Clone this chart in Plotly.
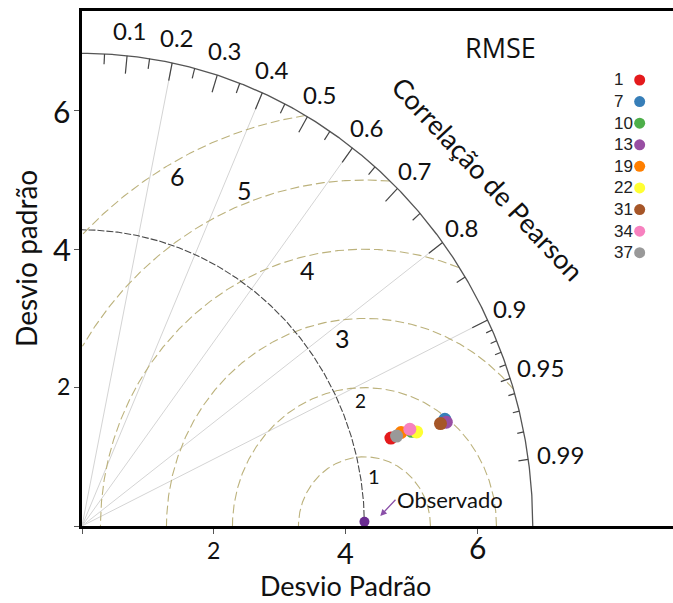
import numpy as np
import plotly.graph_objects as go

# ---------------- data ----------------
model_names = ["1", "7", "10", "13", "19", "22", "31", "34", "37"]
model_colors = ["#e41a1c", "#377eb8", "#4daf4a", "#984ea3", "#ff7f00",
                "#ffff33", "#a65628", "#f781bf", "#999999"]
model_std = [4.85, 5.71, 5.18, 5.72, 5.02, 5.25, 5.63, 5.16, 4.94]
model_corr = [0.9651, 0.9629, 0.9645, 0.9650, 0.9631, 0.9659, 0.9648, 0.9626, 0.9648]

obs_std = 4.28
obs_corr = 0.9999

max_std = 6.83
rmse_levels = [1, 2, 3, 4, 5, 6]
corr_labels = [0.1, 0.2, 0.3, 0.4, 0.5, 0.6, 0.7, 0.8, 0.9, 0.95, 0.99]
corr_lines = [0.2, 0.4, 0.6, 0.8, 0.9]
axis_ticks = [2, 4, 6]

FONT = "Lato"
fig = go.Figure()

# radial correlation lines
xs, ys = [], []
for c in corr_lines:
    th = np.arccos(c)
    xs += [0, max_std * np.cos(th), None]
    ys += [0, max_std * np.sin(th), None]
fig.add_trace(go.Scatter(x=xs, y=ys, mode="lines",
                         line=dict(color="#d4d4d4", width=1), hoverinfo="skip"))

# RMSE arcs
for k in rmse_levels:
    phi = np.linspace(0, np.pi, 720)
    ax_ = obs_std + k * np.cos(phi)
    ay_ = k * np.sin(phi)
    m = (ax_ >= 0) & (np.hypot(ax_, ay_) <= max_std)
    fig.add_trace(go.Scatter(x=ax_[m], y=ay_[m], mode="lines",
                             line=dict(color="#bcb27c", width=1.1, dash="9px,4px"),
                             hoverinfo="skip"))

# observed std arc
t = np.linspace(0, np.pi / 2, 400)
fig.add_trace(go.Scatter(x=obs_std * np.cos(t), y=obs_std * np.sin(t), mode="lines",
                         line=dict(color="#4a4a4a", width=1.1, dash="7px,2px"),
                         hoverinfo="skip"))

# outer arc
fig.add_trace(go.Scatter(x=max_std * np.cos(t), y=max_std * np.sin(t), mode="lines",
                         line=dict(color="#555555", width=1.3), hoverinfo="skip"))

# correlation ticks on the outer arc
tx, ty = [], []
tick_vals = [round(v, 2) for v in np.arange(0.05, 0.91, 0.05)] + \
            [0.91, 0.92, 0.93, 0.94, 0.95, 0.96, 0.97, 0.98, 0.99]
for c in tick_vals:
    if abs(c * 10 - round(c * 10)) < 1e-6:
        L = 0.26
    elif c in (0.95, 0.99) or c < 0.9:
        L = 0.15
    else:
        L = 0.1
    th = np.arccos(c)
    tx += [max_std * np.cos(th), (max_std - L) * np.cos(th), None]
    ty += [max_std * np.sin(th), (max_std - L) * np.sin(th), None]
fig.add_trace(go.Scatter(x=tx, y=ty, mode="lines",
                         line=dict(color="#444444", width=1.2), hoverinfo="skip"))

# model points
for name, col, s, c in zip(model_names, model_colors, model_std, model_corr):
    th = np.arccos(c)
    fig.add_trace(go.Scatter(x=[s * np.cos(th)], y=[s * np.sin(th)], mode="markers",
                             marker=dict(color=col, size=13), name=name))

# observed point
th0 = np.arccos(obs_corr)
fig.add_trace(go.Scatter(x=[obs_std * np.cos(th0)], y=[obs_std * np.sin(th0)],
                         mode="markers", marker=dict(color="#6a2c91", size=10),
                         cliponaxis=False))

# manual legend
leg_x = 8.45
leg_y0 = 6.445
leg_dy = 0.312
leg_y = [leg_y0 - i * leg_dy for i in range(len(model_names))]
fig.add_trace(go.Scatter(x=[leg_x] * len(model_names), y=leg_y, mode="markers",
                         marker=dict(color=model_colors, size=11), hoverinfo="skip"))

ann = []
for name, yy in zip(model_names, leg_y):
    ann.append(dict(x=8.03, y=yy, xref="x", yref="y", text=name, showarrow=False,
                    xanchor="left", yanchor="middle",
                    font=dict(family="Liberation Sans", size=17, color="#222")))

# correlation labels
for c in corr_labels:
    th = np.arccos(c)
    r = 7.2 if c < 0.95 else 7.32
    ann.append(dict(x=r * np.cos(th), y=r * np.sin(th), xref="x", yref="y",
                    text=str(c), showarrow=False, xanchor="center", yanchor="middle",
                    font=dict(family=FONT, size=24, color="#111")))

# RMSE labels
rmse_label_pos = [(4.43, 0.72), (4.22, 1.82), (3.95, 2.72), (3.42, 3.70), (2.46, 4.86), (1.45, 5.06)]
rmse_label_size = [20, 19, 25, 25, 25, 25]
for k, (px, py), fs in zip(rmse_levels, rmse_label_pos, rmse_label_size):
    ann.append(dict(x=px, y=py, xref="x", yref="y", text=str(k), showarrow=False,
                    font=dict(family=FONT, size=fs, color="#111")))

# axis tick labels (paper-referenced on the cross axis so they are not hidden)
xt_style = [(-24, 23), (-26, 29), (-21, 30)]
for v, (sh, fs) in zip(axis_ticks, xt_style):
    ann.append(dict(x=v, y=0, xref="x", yref="paper", yshift=sh, text=str(v),
                    showarrow=False, yanchor="middle",
                    font=dict(family=FONT, size=fs, color="#111")))
yt_style = [(-19, 2.02, 23), (-20, 4.0, 31), (-21, 6.0, 30)]
for v, (sh, yy, fs) in zip(axis_ticks, yt_style):
    ann.append(dict(x=0, y=yy, xref="paper", yref="y", xshift=sh, text=str(v),
                    showarrow=False, xanchor="center",
                    font=dict(family=FONT, size=fs, color="#111")))

# axis titles
ann.append(dict(x=3.99, y=0, xref="x", yref="paper", yshift=-59, text="Desvio Padrão",
                showarrow=False, yanchor="middle", borderpad=0,
                font=dict(family=FONT, size=27, color="#111")))
ann.append(dict(x=0, y=3.86, xref="paper", yref="y", xshift=-56, text="Desvio padrão",
                showarrow=False, textangle=-90, xanchor="center",
                font=dict(family=FONT, size=28, color="#111")))

# titles inside
ann.append(dict(x=6.34, y=6.92, xref="x", yref="y", text="RMSE", showarrow=False,
                font=dict(family="Open Sans", size=27, color="#111")))
ann.append(dict(x=6.15, y=5.02, xref="x", yref="y", text="Correlação de Pearson",
                showarrow=False, textangle=47,
                font=dict(family=FONT, size=27, color="#111")))

# observed annotation
ann.append(dict(x=4.52, y=0.145, xref="x", yref="y", ax=4.75, ay=0.38,
                axref="x", ayref="y", text="Observado", xanchor="left",
                showarrow=True, arrowhead=2, arrowsize=1, arrowwidth=1.3,
                arrowcolor="#8a4fa8",
                font=dict(family=FONT, size=22, color="#111")))

fig.update_layout(
    width=673, height=603,
    margin=dict(l=82, r=0, t=11, b=77),
    paper_bgcolor="white", plot_bgcolor="white",
    showlegend=False,
    annotations=ann,
    xaxis=dict(range=[0, 8.955], showgrid=False, zeroline=False,
               showline=True, linecolor="black", linewidth=3, mirror=True,
               tickvals=[0, 2, 4, 6], ticks="outside", ticklen=5, tickwidth=1,
               tickcolor="#555", showticklabels=False, fixedrange=True),
    yaxis=dict(range=[0, 7.442], showgrid=False, zeroline=False,
               showline=True, linecolor="black", linewidth=3, mirror=False,
               tickvals=[0, 2, 4, 6], ticks="outside", ticklen=5, tickwidth=1,
               tickcolor="#555", showticklabels=False, fixedrange=True),
)

fig.write_html("out.html")
